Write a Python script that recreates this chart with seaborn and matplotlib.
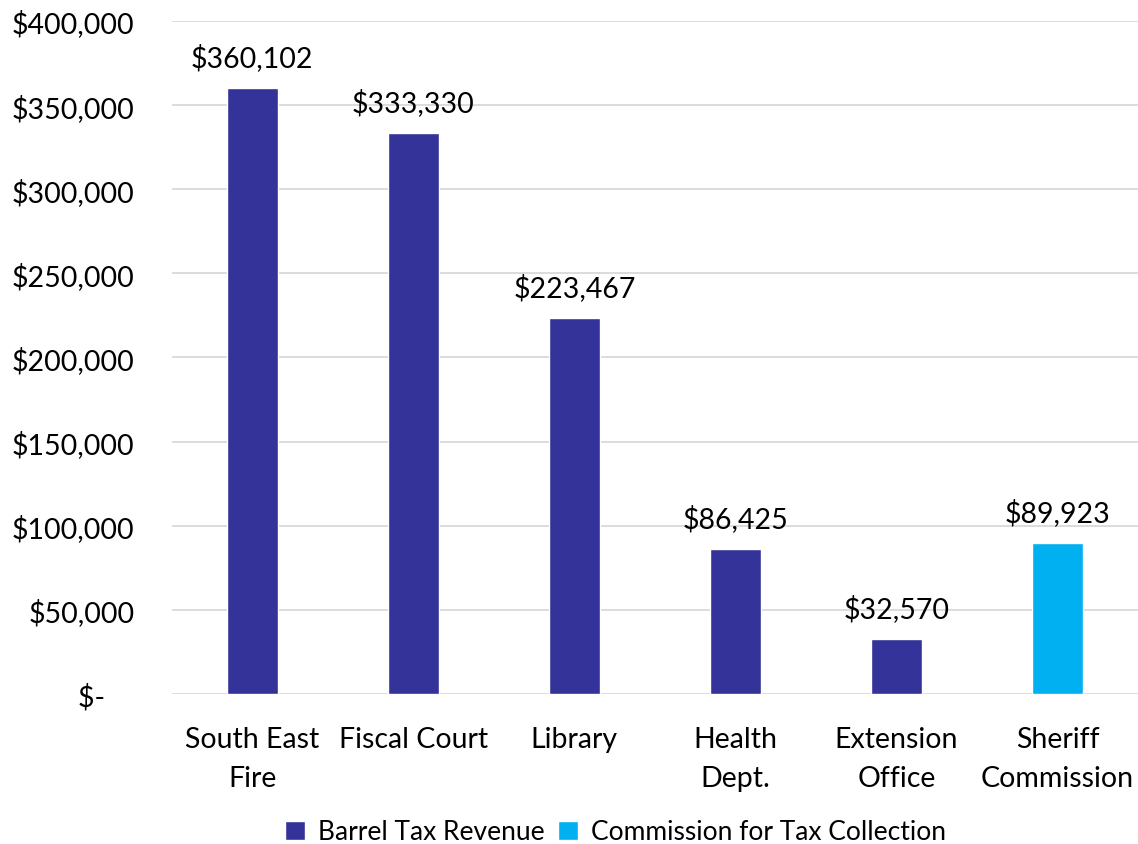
import pandas as pd
import seaborn as sns
import matplotlib.pyplot as plt
from matplotlib.ticker import FuncFormatter

# Data
categories = ['South East\nFire', 'Fiscal Court', 'Library', 'Health\nDept.',
              'Extension\nOffice', 'Sheriff\nCommission']
values = [360102, 333330, 223467, 86425, 32570, 89923]
series = ['Barrel Tax Revenue'] * 5 + ['Commission for Tax Collection']
series_colors = {'Barrel Tax Revenue': '#333399',
                 'Commission for Tax Collection': '#00B0F0'}

df = pd.DataFrame({'category': categories, 'value': values, 'series': series})

sns.set_theme(style='white')
plt.rcParams['font.family'] = ['Lato', 'DejaVu Sans']
plt.rcParams['text.color'] = 'black'
plt.rcParams['xtick.color'] = 'black'
plt.rcParams['ytick.color'] = 'black'

fig = plt.figure(figsize=(11.38, 8.45), dpi=100)
ax = fig.add_axes([0.151, 0.1775, 0.849, 0.7965])

sns.barplot(data=df, x='category', y='value', hue='series', dodge=False,
            palette=series_colors, width=0.32, order=categories, ax=ax,
            saturation=1, legend=True)

ax.set_ylim(0, 400000)
ax.set_yticks(range(0, 400001, 50000))

def money(v, pos):
    if v == 0:
        return '$-    '
    return f'${v:,.0f}'

ax.yaxis.set_major_formatter(FuncFormatter(money))
ax.grid(axis='y', color='#d9d9d9', linewidth=1.3)
ax.set_axisbelow(True)
for s in ax.spines.values():
    s.set_visible(False)
ax.tick_params(axis='y', labelsize=20.5, length=0, pad=27)
ax.tick_params(axis='x', labelsize=20.5, length=0, pad=23)
for lbl in ax.get_xticklabels():
    lbl.set_linespacing(1.6)
ax.set_xlabel('')
ax.set_ylabel('')

# value labels above bars
for cont in ax.containers:
    ax.bar_label(cont, labels=[f'${v:,.0f}' for v in cont.datavalues],
                 fontsize=20.5, padding=12)

ax.legend(loc='upper center', bbox_to_anchor=(0.459, -0.151), ncol=2,
          frameon=False, fontsize=19, handlelength=0.75, handleheight=0.75,
          handletextpad=0.5, columnspacing=0.5)

fig.savefig('out.png', dpi=100)
